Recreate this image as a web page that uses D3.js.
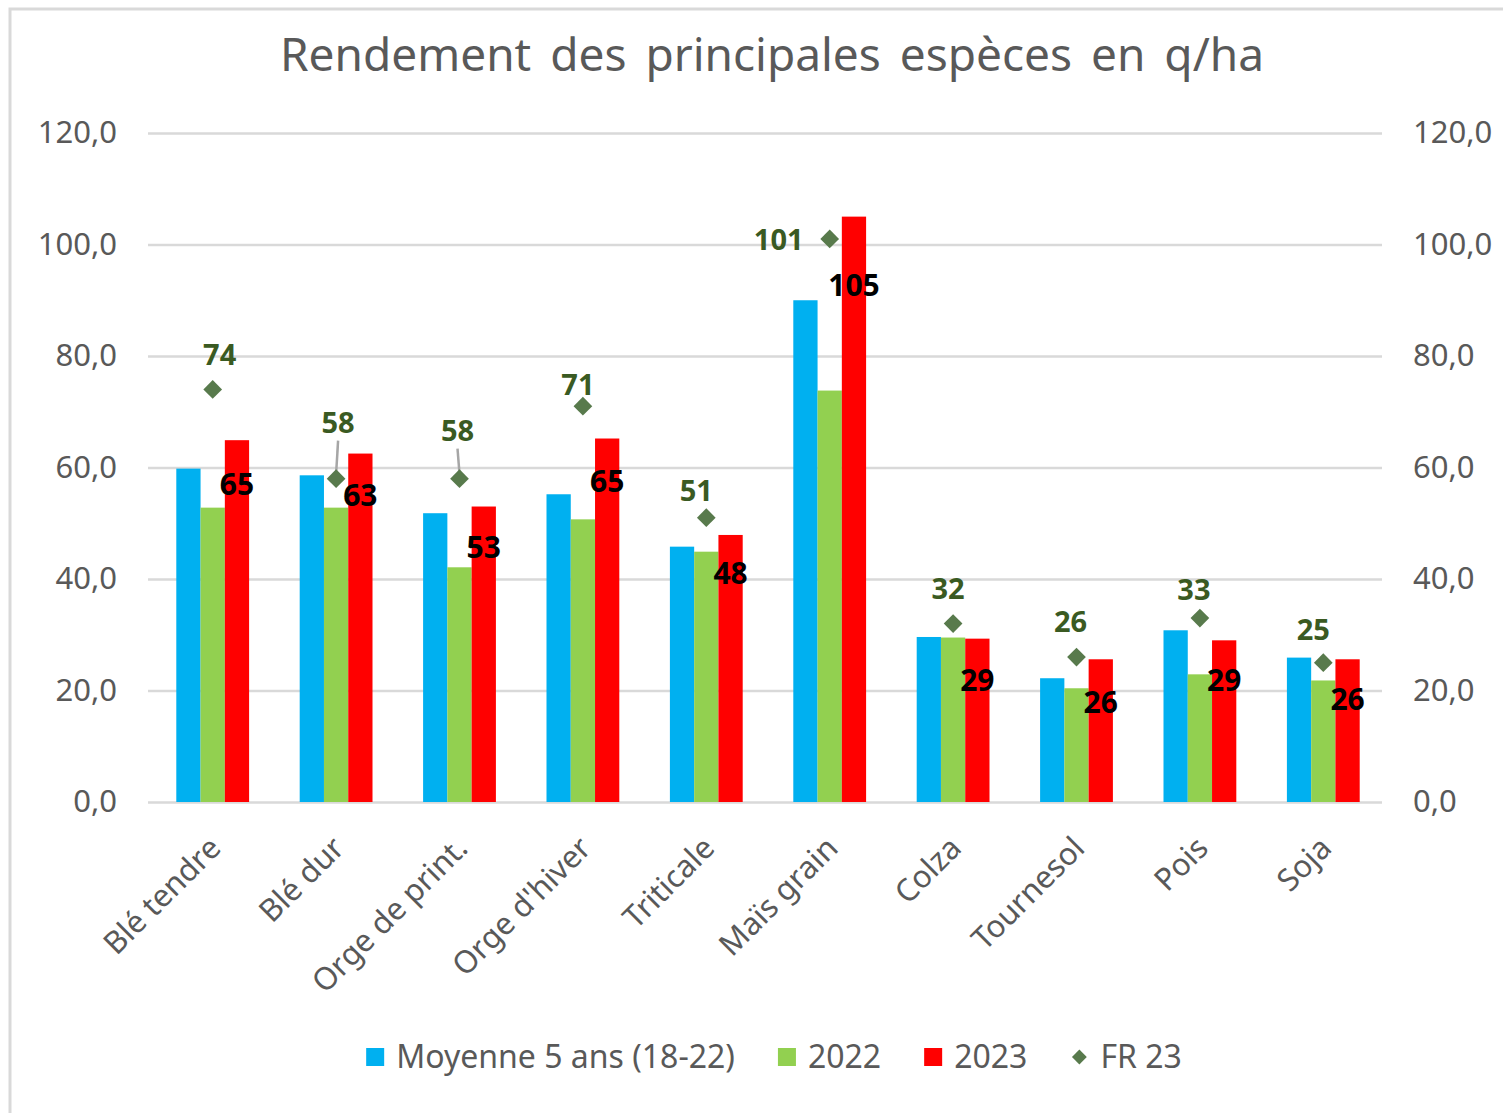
<!DOCTYPE html>
<meta charset="utf-8">
<script src="https://d3js.org/d3.v7.min.js"></script>
<style>
    body { margin: 0; background: #fff; }
    text { font-family: "Noto Sans", "Open Sans", sans-serif; }
</style>
<body>
<div id="my_dataviz"></div>
</body>
<script>
    // values (q/ha)
    const categories = ["Blé tendre", "Blé dur", "Orge de print.", "Orge d'hiver", "Triticale",
        "Maïs grain", "Colza", "Tournesol", "Pois", "Soja"];
    const seriesNames = ["Moyenne 5 ans (18-22)", "2022", "2023"];
    const moyenne = [59.8, 58.6, 51.8, 55.2, 45.8, 90.0, 29.6, 22.2, 30.8, 25.9];
    const y2022 = [52.8, 52.8, 42.1, 50.7, 44.9, 73.8, 29.5, 20.4, 22.9, 21.8];
    const y2023 = [64.9, 62.5, 53.0, 65.2, 47.9, 105.0, 29.3, 25.6, 29.0, 25.6];
    const fr23 = [74, 58, 58, 71, 51, 101, 32, 26, 33, 25];
    const label2023 = ["65", "63", "53", "65", "48", "105", "29", "26", "29", "26"];
    const yTicks = [0, 20, 40, 60, 80, 100, 120];

    const colours = ["#00b0f0", "#92d050", "#ff0000"];
    const frColour = "#587a4c";
    const frLabelColour = "#3a5a22";

    // manual label placement (dx, dy from the diamond), as in the workbook
    const frNudge = [[7, -35], [2, -56], [-2, -48], [-5, -21], [-10, -27],
        [-51, 1], [-5, -35], [-6, -35], [-6, -28], [-10, -33]];
    const leader = [false, true, true, false, false, false, false, false, false, false];
    const nudge2023 = [44, 42, 41, 43, 39, 69, 42, 43, 40, 40];

    const W = 1503, H = 1113;
    const plot = {left: 148, right: 1382, top: 133, bottom: 802};

    const svg = d3.select("#my_dataviz")
        .append("svg")
        .attr("width", W)
        .attr("height", H);

    // chart frame
    svg.append("rect")
        .attr("x", 10).attr("y", 9)
        .attr("width", W).attr("height", H)
        .attr("fill", "#fff")
        .attr("stroke", "#d9d9d9")
        .attr("stroke-width", 3);

    svg.append("text")
        .attr("x", 772).attr("y", 71)
        .attr("text-anchor", "middle")
        .style("font-size", "46px")
        .style("word-spacing", "7px")
        .style("fill", "#595959")
        .text("Rendement des principales espèces en q/ha");

    const x0 = d3.scaleBand()
        .domain(categories)
        .range([plot.left + 3, plot.right + 3])
        .paddingInner(0.41)
        .paddingOuter(0.205);

    const x1 = d3.scaleBand()
        .domain(seriesNames)
        .range([0, x0.bandwidth()]);

    const y = d3.scaleLinear()
        .domain([0, 120])
        .range([plot.bottom, plot.top]);

    const fmt = d => d3.format(".1f")(d).replace(".", ",");

    // grid + both value axes
    const gridG = svg.append("g")
        .attr("transform", "translate(" + plot.left + ",0)")
        .call(d3.axisLeft(y).tickValues(yTicks)
            .tickSize(-(plot.right - plot.left))
            .tickPadding(31)
            .tickFormat(fmt));
    gridG.select(".domain").remove();
    gridG.selectAll("line").attr("stroke", "#d9d9d9").attr("stroke-width", 2.5);
    gridG.selectAll("text")
        .style("font-size", "31px")
        .style("fill", "#595959")
        .style("font-family", "'Noto Sans', sans-serif");

    const rightG = svg.append("g")
        .attr("transform", "translate(" + plot.right + ",0)")
        .call(d3.axisRight(y).tickValues(yTicks)
            .tickSize(0)
            .tickPadding(31)
            .tickFormat(fmt));
    rightG.select(".domain").remove();
    rightG.selectAll("text")
        .style("font-size", "31px")
        .style("fill", "#595959")
        .style("font-family", "'Noto Sans', sans-serif");

    // bars
    const table = categories.map((c, i) => ({
        cat: c, i: i,
        vals: [moyenne[i], y2022[i], y2023[i]]
    }));

    const groups = svg.selectAll(".grp")
        .data(table)
        .enter()
        .append("g")
        .attr("class", "grp")
        .attr("transform", d => "translate(" + x0(d.cat) + ",0)");

    groups.selectAll("rect")
        .data(d => d.vals.map((v, k) => ({key: seriesNames[k], v: v, k: k})))
        .enter()
        .append("rect")
        .attr("x", d => x1(d.key))
        .attr("y", d => y(d.v))
        .attr("width", x1.bandwidth())
        .attr("height", d => y(0) - y(d.v))
        .attr("fill", d => colours[d.k]);

    // 2023 labels
    svg.selectAll(".lab23")
        .data(table)
        .enter()
        .append("text")
        .attr("class", "lab23")
        .attr("x", d => x0(d.cat) + x1("2023") + x1.bandwidth() / 2)
        .attr("y", d => y(y2023[d.i]) + nudge2023[d.i])
        .attr("dy", "0.35em")
        .attr("text-anchor", "middle")
        .style("font-size", "30px")
        .style("font-weight", "bold")
        .style("fill", "#000")
        .text(d => label2023[d.i]);

    // FR 23 markers
    const cx = c => x0(c) + x0.bandwidth() / 2;
    const diamond = d3.symbol().type(d3.symbolSquare).size(175);

    svg.selectAll(".lead")
        .data(table.filter(d => leader[d.i]))
        .enter()
        .append("line")
        .attr("x1", d => cx(d.cat) + frNudge[d.i][0])
        .attr("y1", d => y(fr23[d.i]) + frNudge[d.i][1] + 18)
        .attr("x2", d => cx(d.cat))
        .attr("y2", d => y(fr23[d.i]) - 5)
        .attr("stroke", "#a6a6a6")
        .attr("stroke-width", 2.5);

    svg.selectAll(".fr")
        .data(table)
        .enter()
        .append("path")
        .attr("class", "fr")
        .attr("d", diamond)
        .attr("transform", d => "translate(" + cx(d.cat) + "," + y(fr23[d.i]) + ") rotate(45)")
        .attr("fill", frColour);

    svg.selectAll(".frlab")
        .data(table)
        .enter()
        .append("text")
        .attr("class", "frlab")
        .attr("x", d => cx(d.cat) + frNudge[d.i][0])
        .attr("y", d => y(fr23[d.i]) + frNudge[d.i][1])
        .attr("dy", "0.35em")
        .attr("text-anchor", "middle")
        .style("font-size", "29px")
        .style("font-weight", "bold")
        .style("fill", frLabelColour)
        .text(d => fr23[d.i]);

    // category axis labels
    svg.selectAll(".cat")
        .data(categories)
        .enter()
        .append("text")
        .attr("class", "cat")
        .attr("transform", d => "translate(" + (cx(d) + 10) + ",850) rotate(-45)")
        .attr("text-anchor", "end")
        .style("font-size", "31px")
        .style("fill", "#595959")
        .text(d => d);

    // legend
    const legendItems = seriesNames.map((s, k) => ({name: s, colour: colours[k], shape: "square"}))
        .concat([{name: "FR 23", colour: frColour, shape: "diamond"}]);
    const legend = svg.append("g");
    let lx = 0;
    legendItems.forEach(function (it) {
        const g = legend.append("g").attr("transform", "translate(" + lx + ",0)");
        if (it.shape === "square") {
            g.append("rect").attr("x", 0).attr("y", -9).attr("width", 18).attr("height", 18)
                .attr("fill", it.colour);
        } else {
            g.append("path").attr("d", d3.symbol().type(d3.symbolSquare).size(110))
                .attr("transform", "translate(9,0) rotate(45)")
                .attr("fill", it.colour);
        }
        const t = g.append("text")
            .attr("x", 30).attr("dy", "0.35em")
            .style("font-size", "32px")
            .style("fill", "#595959")
            .text(it.name);
        lx += 30 + t.node().getComputedTextLength() + 43;
    });
    lx -= 43;
    legend.attr("transform", "translate(" + (774 - lx / 2) + ",1057)");
</script>
